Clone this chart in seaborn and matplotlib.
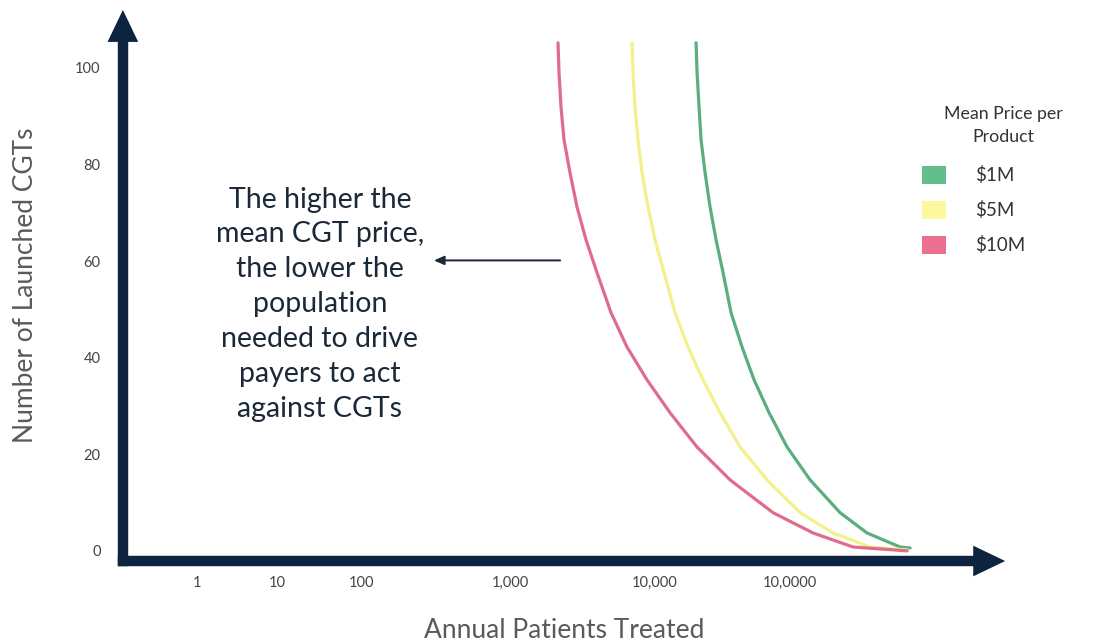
import seaborn as sns
import matplotlib.pyplot as plt
import pandas as pd
from matplotlib.patches import Patch

# x is a plain position along the drawn axis, the labels below are the
# (uneven) "patients" marks printed on the original
tick_pos = [0.74, 1.54, 2.39, 3.87, 5.32, 6.67]
tick_labels = ["1", "10", "100", "1,000", "10,000", "10,0000"]
y_ticks = [0, 20, 40, 60, 80, 100]

# curves (same y samples for all three)
curve_y = [105.2, 99.0, 91.9, 85.1, 78.3, 71.2, 64.4, 57.6, 49.3, 42.2,
           35.4, 28.6, 21.5, 14.7, 7.9, 3.7, 0.8]
red_x = [4.35, 4.36, 4.38, 4.41, 4.47, 4.54, 4.63, 4.74, 4.88, 5.04,
         5.24, 5.47, 5.74, 6.07, 6.50, 6.90, 7.30]
yel_x = [5.09, 5.10, 5.12, 5.15, 5.19, 5.25, 5.32, 5.41, 5.52, 5.65,
         5.80, 5.97, 6.17, 6.44, 6.77, 7.10, 7.47]
grn_x = [5.73, 5.74, 5.76, 5.78, 5.82, 5.87, 5.93, 6.00, 6.08, 6.19,
         6.31, 6.46, 6.64, 6.87, 7.17, 7.44, 7.77]
# where each curve runs out along the axis
end_x = {"$1M": 7.87, "$5M": 7.84, "$10M": 7.84}
end_y = {"$1M": 0.6, "$5M": 0.2, "$10M": 0.0}

prices = ["$1M", "$5M", "$10M"]
line_cols = {"$1M": "#5aae80", "$5M": "#f4f08c", "$10M": "#e06c8d"}
box_cols = ["#62bf8a", "#fdf79e", "#ea6f90"]

parts = []
for p, xs in zip(prices, [grn_x, yel_x, red_x]):
    parts.append(pd.DataFrame({"x": xs + [end_x[p]], "y": curve_y + [end_y[p]], "price": p}))
df = pd.concat(parts)

sns.set_theme(style="white")
plt.rcParams["font.family"] = ["Lato", "DejaVu Sans"]
navy = "#0d2340"
grey = "#5a5a5a"

fig = plt.figure(figsize=(11.07, 6.43), dpi=100)
ax = fig.add_axes([0.111, 0.1275, 0.797, 0.857])

sns.lineplot(data=df, x="x", y="y", hue="price", palette=line_cols,
             linewidth=2.3, legend=False, sort=False, ax=ax)

ax.set_xlim(0, 8.82)
ax.set_ylim(-2.1, 112)
for s in ax.spines.values():
    s.set_visible(False)

ax.set_xticks(tick_pos)
ax.set_xticklabels(tick_labels)
ax.set_yticks(y_ticks)
ax.tick_params(axis="both", length=0, labelsize=10.5, colors="#444444")
ax.tick_params(axis="y", pad=16)
ax.tick_params(axis="x", pad=11)
ax.set_xlabel("Annual Patients Treated", fontsize=19, color=grey, labelpad=20)
ax.set_ylabel("Number of Launched CGTs", fontsize=19, color=grey, labelpad=27)

# thick arrowed axes: square-cornered shafts + filled heads
ax.plot([0, 0], [0, 0.97], transform=ax.transAxes, color=navy, lw=7.5,
        solid_capstyle="projecting", clip_on=False)
ax.plot([0, 0.97], [0, 0], transform=ax.transAxes, color=navy, lw=7.5,
        solid_capstyle="projecting", clip_on=False)
head = dict(arrowstyle="-|>,head_length=1.0,head_width=0.48", lw=0,
            color=navy, mutation_scale=23, shrinkA=0, shrinkB=0)
ax.annotate("", xy=(0, 1), xytext=(0, 0.9), xycoords="axes fraction",
            arrowprops=head, annotation_clip=False)
ax.annotate("", xy=(1, 0), xytext=(0.9, 0), xycoords="axes fraction",
            arrowprops=head, annotation_clip=False)

# callout
fig.text(0.289, 0.527, "The higher the\nmean CGT price,\nthe lower the\npopulation\nneeded to drive\npayers to act\nagainst CGTs",
         ha="center", va="center", fontsize=20.5, color="#1b2838", linespacing=1.42)
ax.annotate("", xy=(0.392, 0.595), xytext=(0.506, 0.595),
            xycoords="figure fraction",
            arrowprops=dict(arrowstyle="-|>,head_length=0.5,head_width=0.22",
                            mutation_scale=12, lw=1.4, color="#1b2838",
                            shrinkA=0, shrinkB=0))

# legend
fig.text(0.906, 0.805, "Mean Price per\nProduct", ha="center", va="center",
         fontsize=12.8, color="#333333", linespacing=1.5)
handles = [Patch(facecolor=c, edgecolor="none") for c in box_cols]
leg = fig.legend(handles, [p.replace("$", r"\$") for p in prices],
                 loc="upper left", bbox_to_anchor=(0.833, 0.742),
                 frameon=False, fontsize=13.5, borderpad=0, borderaxespad=0,
                 handlelength=1.28, handleheight=1.07, labelspacing=0.9,
                 handletextpad=1.55)
for t in leg.get_texts():
    t.set_color("#333333")

fig.savefig("out.png", dpi=100)
